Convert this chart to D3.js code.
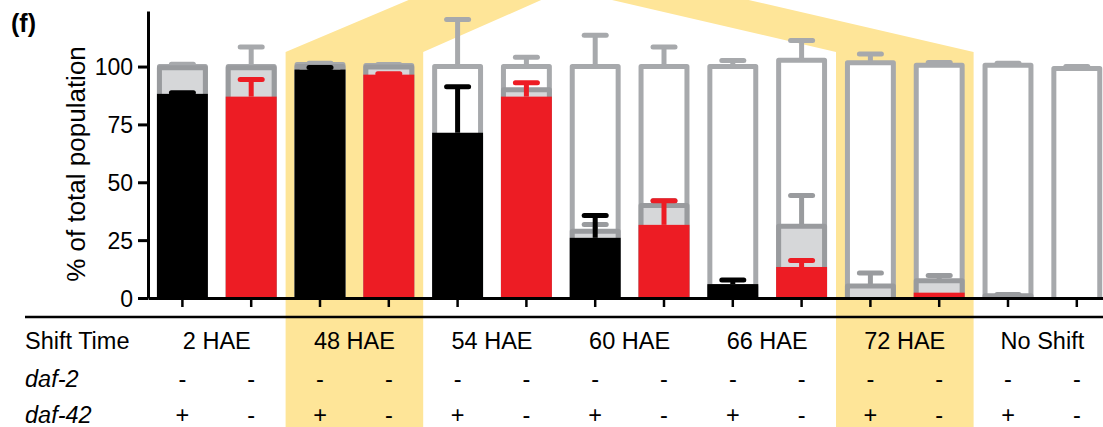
<!DOCTYPE html>
<html>
<head>
<meta charset="utf-8">
<script src="https://cdn.jsdelivr.net/npm/d3@7"></script>
<style>
body { margin: 0; background: #fff; }
svg { display: block; font-family: "Liberation Sans", Arial, Helvetica, sans-serif; }
</style>
</head>
<body>
<svg id="chart" width="1103" height="427"></svg>
<script>
// groups (shift times) and the genotype rows of the table
var groups = ["2 HAE", "48 HAE", "54 HAE", "60 HAE", "66 HAE", "72 HAE", "No Shift"];
var highlighted = ["48 HAE", "72 HAE"];
var daf2 = ["-", "-", "-", "-", "-", "-", "-", "-", "-", "-", "-", "-", "-", "-"];
var daf42 = ["+", "-", "+", "-", "+", "-", "+", "-", "+", "-", "+", "-", "+", "-"];

// outer bars (grey outline, white fill)
var totalVals = [100, 100, 100.9, 100.4, 100, 100, 100, 100, 100, 102.7, 101.6, 100.6, 100.6, 99.2];
var totalErr  = [1, 8.4, 0.5, 0.5, 20.3, 4, 13.5, 8.4, 2.6, 8.6, 3.8, 1.2, 0.8, 0.8];
// middle bars (light grey fill)
var midVals = [99.5, 99.5, 100, 99.8, 70, 90, 28.8, 40, 5, 31, 5.2, 7.4, 1, 0];
var midErr  = [0, 0, 0, 0, 0, 0, 3, 2, 0, 13.3, 5.6, 2.3, 0.5, 0];
// coloured bars (black = daf-42 +, red = daf-42 -)
var mainVals = [88.2, 87, 98.7, 96.5, 71.4, 87, 26, 31.6, 6, 13.4, 0, 2.3, 0, 0];
var mainErr  = [0.5, 7.4, 0.9, 0.4, 19.9, 6, 9.6, 10.4, 1.8, 2.8, 0, 0, 0, 0];

var yTicks = [0, 25, 50, 75, 100];

var svg = d3.select("#chart");
var idx = d3.range(totalVals.length);

var x = d3.scaleBand()
    .domain(idx)
    .range([148, 1111.2])
    .paddingInner(0.26)
    .paddingOuter(0.13);

var y = d3.scaleLinear()
    .domain([0, 124])
    .range([298, 11]);

var step = x.step();
function cx(i) { return x(i) + x.bandwidth() / 2; }
function barColor(i) { return daf42[i] === "+" ? "#000000" : "#ed1c24"; }

// yellow highlight columns with their slanted tops
var kinkY = 52;
highlighted.forEach(function(g) {
    var gi = groups.indexOf(g);
    var left = cx(gi * 2) - step / 2;
    var right = cx(gi * 2 + 1) + step / 2;
    var pts;
    if (gi < 3) {
        pts = [[left, 427], [left, kinkY], [left + 123, 0], [right + 118, 0], [right, kinkY], [right, 427]];
    } else {
        pts = [[left, 427], [left, kinkY], [left - 224, 0], [right - 225, 0], [right, kinkY], [right, 427]];
    }
    svg.append("polygon")
        .attr("points", pts.map(function(p) { return p.join(","); }).join(" "))
        .attr("fill", "#fee598");
});

function barPath(i, v) {
    var x0 = x(i) + 2.5, x1 = x(i) + x.bandwidth() - 2.5;
    return "M" + x0 + "," + y(0) + "V" + y(v) + "H" + x1 + "V" + y(0);
}

// upper half of each error bar, with a rounded cap
function errorBars(vals, errs, color) {
    var g = svg.append("g");
    idx.forEach(function(i) {
        if (!errs[i]) return;
        var c = typeof color === "function" ? color(i) : color;
        var top = y(vals[i] + errs[i]);
        g.append("line")
            .attr("x1", cx(i)).attr("x2", cx(i))
            .attr("y1", y(vals[i])).attr("y2", top)
            .attr("stroke", c).attr("stroke-width", 5);
        g.append("line")
            .attr("x1", cx(i) - 11).attr("x2", cx(i) + 11)
            .attr("y1", top).attr("y2", top)
            .attr("stroke", c).attr("stroke-width", 5)
            .attr("stroke-linecap", "round");
    });
}

// outer bars
svg.append("g").selectAll("path")
    .data(idx)
    .enter().append("path")
    .attr("d", function(i) { return barPath(i, totalVals[i]); })
    .attr("fill", "#fff")
    .attr("stroke", "#a7a9ac")
    .attr("stroke-width", 5)
    .attr("stroke-linejoin", "round");
errorBars(totalVals, totalErr, "#a7a9ac");

// middle bars
svg.append("g").selectAll("path")
    .data(idx.filter(function(i) { return midVals[i] > 0; }))
    .enter().append("path")
    .attr("d", function(i) { return barPath(i, midVals[i]); })
    .attr("fill", "#d6d7d9")
    .attr("stroke", "#999b9e")
    .attr("stroke-width", 5)
    .attr("stroke-linejoin", "round");
errorBars(midVals, midErr, "#999b9e");

// coloured bars
svg.append("g").selectAll("rect")
    .data(idx)
    .enter().append("rect")
    .attr("x", function(i) { return x(i); })
    .attr("width", x.bandwidth())
    .attr("y", function(i) { return y(mainVals[i]); })
    .attr("height", function(i) { return y(0) - y(mainVals[i]); })
    .attr("fill", barColor);
errorBars(mainVals, mainErr, barColor);

// axes
var yAxis = svg.append("g")
    .attr("transform", "translate(148,0)")
    .call(d3.axisLeft(y).tickValues(yTicks).tickSize(10).tickSizeOuter(0).tickPadding(5));
yAxis.select(".domain").attr("stroke-width", 3);
yAxis.selectAll(".tick line").attr("stroke-width", 3);
yAxis.selectAll(".tick text")
    .attr("font-size", 23)
    .attr("font-family", "Liberation Sans, Arial, sans-serif")
    .attr("fill", "#000")
    .attr("dy", "0.36em");

var xAxis = svg.append("g")
    .attr("transform", "translate(0," + y(0) + ")")
    .call(d3.axisBottom(x).tickSize(9).tickSizeOuter(0).tickFormat(""));
xAxis.select(".domain").attr("stroke-width", 3);
xAxis.selectAll(".tick line").attr("stroke-width", 2.5);

svg.append("text")
    .attr("transform", "translate(85,164) rotate(-90)")
    .attr("text-anchor", "middle")
    .attr("font-size", 26)
    .text("% of total population");

svg.append("text")
    .attr("x", 11).attr("y", 32)
    .attr("font-size", 25)
    .attr("font-weight", "bold")
    .text("(f)");

// table below the chart
svg.append("line")
    .attr("x1", 25).attr("x2", 1103)
    .attr("y1", 317).attr("y2", 317)
    .attr("stroke", "#000").attr("stroke-width", 2.5);

var rowY = [349, 387, 423];
svg.append("text").attr("x", 25).attr("y", rowY[0]).attr("font-size", 23.5).text("Shift Time");
svg.append("text").attr("x", 25).attr("y", rowY[1]).attr("font-size", 23.5).attr("font-style", "italic").text("daf-2");
svg.append("text").attr("x", 25).attr("y", rowY[2]).attr("font-size", 23.5).attr("font-style", "italic").text("daf-42");

svg.append("g").selectAll("text")
    .data(groups)
    .enter().append("text")
    .attr("x", function(d, i) { return (cx(i * 2) + cx(i * 2 + 1)) / 2; })
    .attr("y", rowY[0])
    .attr("text-anchor", "middle")
    .attr("font-size", 23.5)
    .text(function(d) { return d; });

[daf2, daf42].forEach(function(row, r) {
    svg.append("g").selectAll("text")
        .data(row)
        .enter().append("text")
        .attr("x", function(d, i) { return cx(i); })
        .attr("y", rowY[r + 1])
        .attr("text-anchor", "middle")
        .attr("font-size", 23.5)
        .text(function(d) { return d; });
});
</script>
</body>
</html>
